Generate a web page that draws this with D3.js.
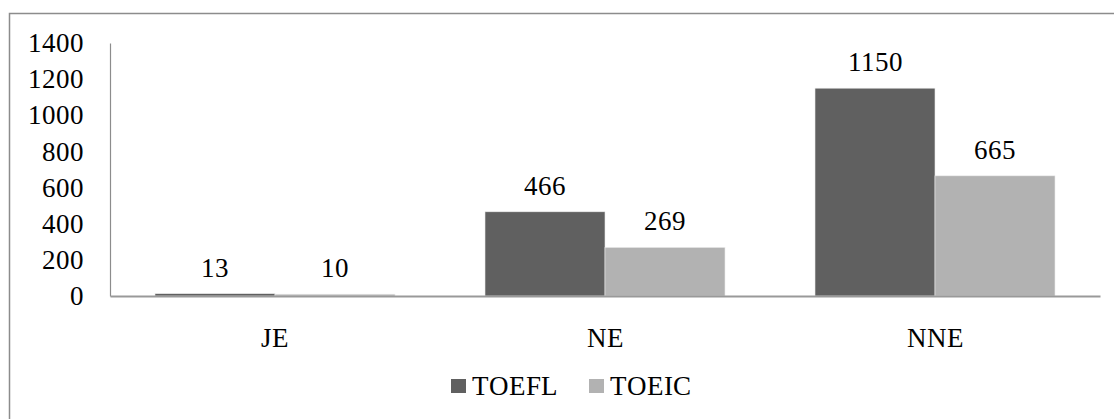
<!DOCTYPE html>
<html>
<head>
<meta charset="utf-8">
<script src="https://cdn.jsdelivr.net/npm/d3@7/dist/d3.min.js"></script>
<style>
  @font-face { font-family: "ChartSerif"; src: local("Liberation Serif"), local("LiberationSerif"), local("Times New Roman"); }
  html, body { margin: 0; background: #fff; }
  svg text { font-family: "ChartSerif", "Liberation Serif", "Times New Roman" !important; font-size: 27px !important; }
</style>
</head>
<body>
<svg id="chart" width="1114" height="419"></svg>
<script>
// Score counts per group
const categories = ["JE", "NE", "NNE"];
const seriesNames = ["TOEFL", "TOEIC"];
const toefl = [13, 466, 1150];
const toeic = [10, 269, 665];
const yTicks = [0, 200, 400, 600, 800, 1000, 1200, 1400];

const colors = { TOEFL: "#606060", TOEIC: "#b2b2b2" };

const svg = d3.select("#chart");

// outer frame
svg.append("rect")
  .attr("x", 9.5).attr("y", 13.5)
  .attr("width", 1130).attr("height", 430)
  .attr("fill", "none").attr("stroke", "#8c8c8c").attr("stroke-width", 1.5);

const plot = { left: 110, right: 1100, top: 43, bottom: 296 };

const x = d3.scaleBand().domain(categories).range([plot.left, plot.right]).paddingInner(0).paddingOuter(0);
const x1 = d3.scaleBand().domain(seriesNames).range([0, x.bandwidth()]).paddingInner(0).paddingOuter(0.375);
const y = d3.scaleLinear().domain([0, 1400]).range([plot.bottom, plot.top]);

const rows = categories.map((c, i) => ({ cat: c, TOEFL: toefl[i], TOEIC: toeic[i] }));

// bars
const groups = svg.append("g").selectAll("g").data(rows).join("g")
  .attr("transform", d => `translate(${x(d.cat)},0)`);

groups.selectAll("rect").data(d => seriesNames.map(s => ({ s, v: d[s] }))).join("rect")
  .attr("x", d => x1(d.s))
  .attr("width", x1.bandwidth())
  .attr("y", d => y(d.v))
  .attr("height", d => y(0) - y(d.v))
  .attr("fill", d => colors[d.s])
  .attr("stroke", "#ececec").attr("stroke-width", 0.6);

// value labels
groups.selectAll("text.val").data(d => seriesNames.map(s => ({ s, v: d[s] }))).join("text")
  .attr("class", "val")
  .attr("x", d => x1(d.s) + x1.bandwidth() / 2)
  .attr("y", d => y(d.v) - 17)
  .attr("text-anchor", "middle")
  .text(d => d.v);

// y axis
const yAxis = d3.axisLeft(y).tickValues(yTicks).tickFormat(d3.format("d")).tickSize(0).tickPadding(26);
const gy = svg.append("g").attr("transform", `translate(${plot.left},0)`).call(yAxis);
gy.select(".domain").attr("stroke", "#8c8c8c").attr("stroke-width", 1.2);
gy.selectAll("text").attr("fill", "#000");

// x axis
const xAxis = d3.axisBottom(x).tickSize(0).tickPadding(32);
const gx = svg.append("g").attr("transform", `translate(0,${plot.bottom})`).call(xAxis);
gx.select(".domain").attr("stroke", "#999").attr("stroke-width", 2);
gx.selectAll("text").attr("fill", "#000");

// legend
const legendItems = [
  { name: "TOEFL", sx: 451, tx: 472 },
  { name: "TOEIC", sx: 589, tx: 610 }
];
const lg = svg.append("g");
legendItems.forEach(it => {
  lg.append("rect").attr("x", it.sx).attr("y", 379).attr("width", 15).attr("height", 14)
    .attr("fill", colors[it.name]);
  lg.append("text").attr("x", it.tx).attr("y", 395).text(it.name);
});
</script>
</body>
</html>
